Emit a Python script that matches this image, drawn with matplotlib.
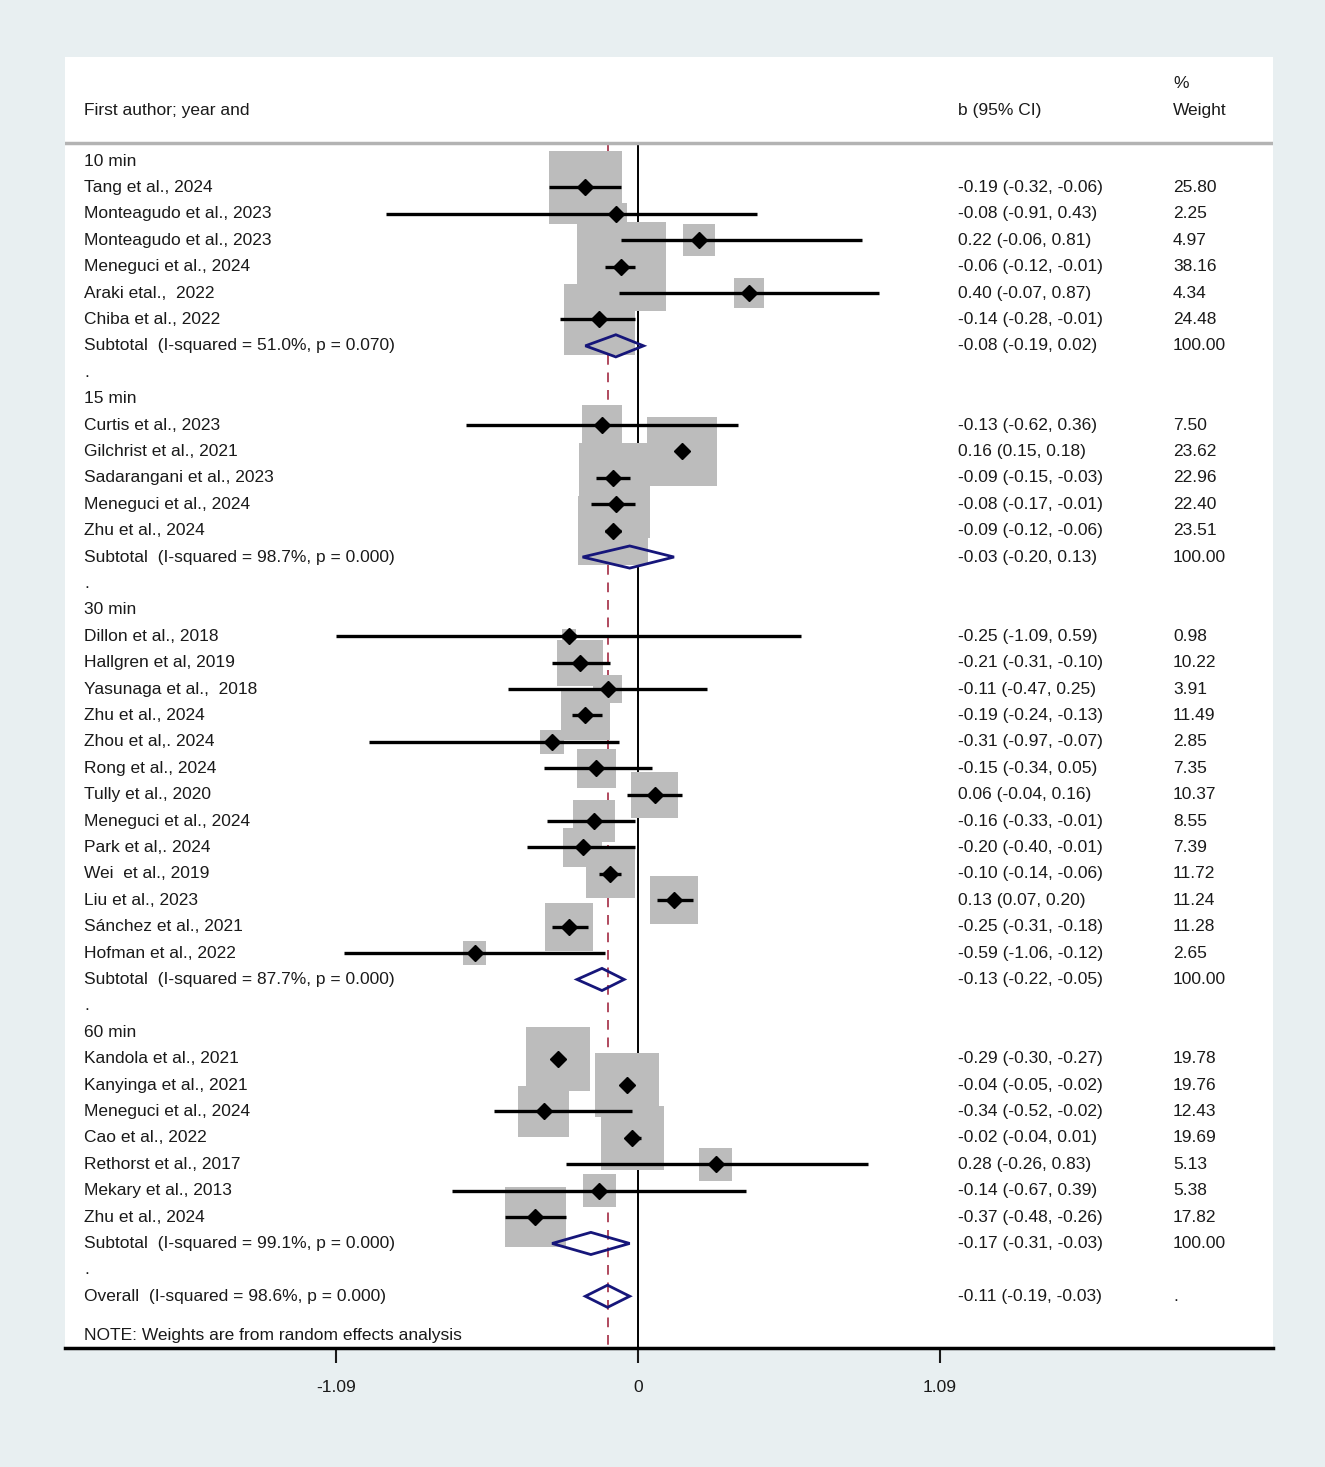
import matplotlib
matplotlib.use('Agg')
import matplotlib.pyplot as plt
from matplotlib.patches import Polygon

plt.rcParams['font.family'] = ['Liberation Sans', 'DejaVu Sans']

# Subgroups
group_names = ['10 min', '15 min', '30 min', '60 min']

studies_10 = ['Tang et al., 2024', 'Monteagudo et al., 2023', 'Monteagudo et al., 2023',
              'Meneguci et al., 2024', 'Araki etal.,  2022', 'Chiba et al., 2022']
b_10 = [-0.19, -0.08, 0.22, -0.06, 0.40, -0.14]
lo_10 = [-0.32, -0.91, -0.06, -0.12, -0.07, -0.28]
hi_10 = [-0.06, 0.43, 0.81, -0.01, 0.87, -0.01]
w_10 = [25.80, 2.25, 4.97, 38.16, 4.34, 24.48]

studies_15 = ['Curtis et al., 2023', 'Gilchrist et al., 2021', 'Sadarangani et al., 2023',
              'Meneguci et al., 2024', 'Zhu et al., 2024']
b_15 = [-0.13, 0.16, -0.09, -0.08, -0.09]
lo_15 = [-0.62, 0.15, -0.15, -0.17, -0.12]
hi_15 = [0.36, 0.18, -0.03, -0.01, -0.06]
w_15 = [7.50, 23.62, 22.96, 22.40, 23.51]

studies_30 = ['Dillon et al., 2018', 'Hallgren et al, 2019', 'Yasunaga et al.,  2018',
              'Zhu et al., 2024', 'Zhou et al,. 2024', 'Rong et al., 2024', 'Tully et al., 2020',
              'Meneguci et al., 2024', 'Park et al,. 2024', 'Wei  et al., 2019', 'Liu et al., 2023',
              'Sánchez et al., 2021', 'Hofman et al., 2022']
b_30 = [-0.25, -0.21, -0.11, -0.19, -0.31, -0.15, 0.06, -0.16, -0.20, -0.10, 0.13, -0.25, -0.59]
lo_30 = [-1.09, -0.31, -0.47, -0.24, -0.97, -0.34, -0.04, -0.33, -0.40, -0.14, 0.07, -0.31, -1.06]
hi_30 = [0.59, -0.10, 0.25, -0.13, -0.07, 0.05, 0.16, -0.01, -0.01, -0.06, 0.20, -0.18, -0.12]
w_30 = [0.98, 10.22, 3.91, 11.49, 2.85, 7.35, 10.37, 8.55, 7.39, 11.72, 11.24, 11.28, 2.65]

studies_60 = ['Kandola et al., 2021', 'Kanyinga et al., 2021', 'Meneguci et al., 2024',
              'Cao et al., 2022', 'Rethorst et al., 2017', 'Mekary et al., 2013', 'Zhu et al., 2024']
b_60 = [-0.29, -0.04, -0.34, -0.02, 0.28, -0.14, -0.37]
lo_60 = [-0.30, -0.05, -0.52, -0.04, -0.26, -0.67, -0.48]
hi_60 = [-0.27, -0.02, -0.02, 0.01, 0.83, 0.39, -0.26]
w_60 = [19.78, 19.76, 12.43, 19.69, 5.13, 5.38, 17.82]

# Subtotals
sub_labels = ['Subtotal  (I-squared = 51.0%, p = 0.070)',
              'Subtotal  (I-squared = 98.7%, p = 0.000)',
              'Subtotal  (I-squared = 87.7%, p = 0.000)',
              'Subtotal  (I-squared = 99.1%, p = 0.000)']
sub_b = [-0.08, -0.03, -0.13, -0.17]
sub_lo = [-0.19, -0.20, -0.22, -0.31]
sub_hi = [0.02, 0.13, -0.05, -0.03]

overall_label = 'Overall  (I-squared = 98.6%, p = 0.000)'
overall_b, overall_lo, overall_hi = -0.11, -0.19, -0.03

groups = [
    (studies_10, b_10, lo_10, hi_10, w_10),
    (studies_15, b_15, lo_15, hi_15, w_15),
    (studies_30, b_30, lo_30, hi_30, w_30),
    (studies_60, b_60, lo_60, hi_60, w_60),
]

bg = '#e8eff1'
txt = '#1a1a1a'
navy = '#16167a'
fs = 12.5

fig = plt.figure(figsize=(13.25, 14.67), dpi=100, facecolor=bg)
ax = fig.add_axes([65 / 1325, 1 - 1348 / 1467, 1208 / 1325, 1291 / 1467])
ax.set_facecolor('white')

x_left, x_right = -573 / 277.06, 635 / 277.06
ax.set_xlim(x_left, x_right)
ax.set_ylim(44.96, -3.94)

lab_x = 0.0157
ci_x = 0.7392
wt_x = 0.9172
tr = ax.get_yaxis_transform()


def fmt_ci(b, lo, hi):
    return f'{b:.2f} ({lo:.2f}, {hi:.2f})'


def diamond(y, b, lo, hi):
    h = 0.42
    p = Polygon([(lo, y), (b, y - h), (hi, y), (b, y + h)], closed=True,
                fill=False, edgecolor=navy, lw=2.0, zorder=5)
    ax.add_patch(p)


# header
ax.text(lab_x, -1.93, 'First author; year and', transform=tr, va='center', fontsize=fs, color=txt)
ax.text(ci_x, -1.93, 'b (95% CI)', transform=tr, va='center', fontsize=fs, color=txt)
ax.text(wt_x, -2.95, '%', transform=tr, va='center', fontsize=fs, color=txt)
ax.text(wt_x, -1.93, 'Weight', transform=tr, va='center', fontsize=fs, color=txt)
ax.plot([x_left, x_right], [-0.68, -0.68], color='#b3b3b3', lw=2.5, zorder=2)

# reference lines
ax.plot([0, 0], [-0.6, 44.96], color='black', lw=1.4, zorder=1)
ax.plot([overall_b, overall_b], [-0.6, 44.96], color='#b04a5e', lw=1.4,
        dashes=(5, 4), zorder=1)

row = 0
for gi, (names, b, lo, hi, w) in enumerate(groups):
    ax.text(lab_x, row, group_names[gi], transform=tr, va='center', fontsize=fs, color=txt)
    row += 1
    ys = list(range(row, row + len(names)))
    ax.scatter(b, ys, s=[107 * v for v in w], marker='s', color='#bcbcbc',
               linewidths=0, zorder=2)
    ax.hlines(ys, lo, hi, color='black', lw=2.4, zorder=3)
    ax.plot(b, ys, 'D', color='black', markersize=8.5, zorder=4)
    for y, n, bb, l, h, ww in zip(ys, names, b, lo, hi, w):
        ax.text(lab_x, y, n, transform=tr, va='center', fontsize=fs, color=txt)
        ax.text(ci_x, y, fmt_ci(bb, l, h), transform=tr, va='center', fontsize=fs, color=txt)
        ax.text(wt_x, y, f'{ww:.2f}', transform=tr, va='center', fontsize=fs, color=txt)
    row += len(names)
    ax.text(lab_x, row, sub_labels[gi], transform=tr, va='center', fontsize=fs, color=txt)
    ax.text(ci_x, row, fmt_ci(sub_b[gi], sub_lo[gi], sub_hi[gi]), transform=tr,
            va='center', fontsize=fs, color=txt)
    ax.text(wt_x, row, '100.00', transform=tr, va='center', fontsize=fs, color=txt)
    diamond(row, sub_b[gi], sub_lo[gi], sub_hi[gi])
    row += 1
    ax.text(lab_x, row, '.', transform=tr, va='center', fontsize=fs, color=txt)
    row += 1

# overall
ax.text(lab_x, row, overall_label, transform=tr, va='center', fontsize=fs, color=txt)
ax.text(ci_x, row, fmt_ci(overall_b, overall_lo, overall_hi), transform=tr,
        va='center', fontsize=fs, color=txt)
ax.text(wt_x, row, '.', transform=tr, va='center', fontsize=fs, color=txt)
diamond(row, overall_b, overall_lo, overall_hi)

ax.text(lab_x, row + 1.5, 'NOTE: Weights are from random effects analysis', transform=tr,
        va='center', fontsize=fs, color=txt)

# axes styling
for s in ['top', 'left', 'right']:
    ax.spines[s].set_visible(False)
ax.spines['bottom'].set_linewidth(2.5)
ax.spines['bottom'].set_color('black')
ax.set_yticks([])
ax.set_xticks([-1.09, 0, 1.09])
ax.set_xticklabels(['-1.09', '0', '1.09'])
ax.tick_params(axis='x', length=11, width=1.5, pad=12, labelsize=fs, colors=txt)

fig.savefig('out.png', dpi=100, facecolor=bg)
